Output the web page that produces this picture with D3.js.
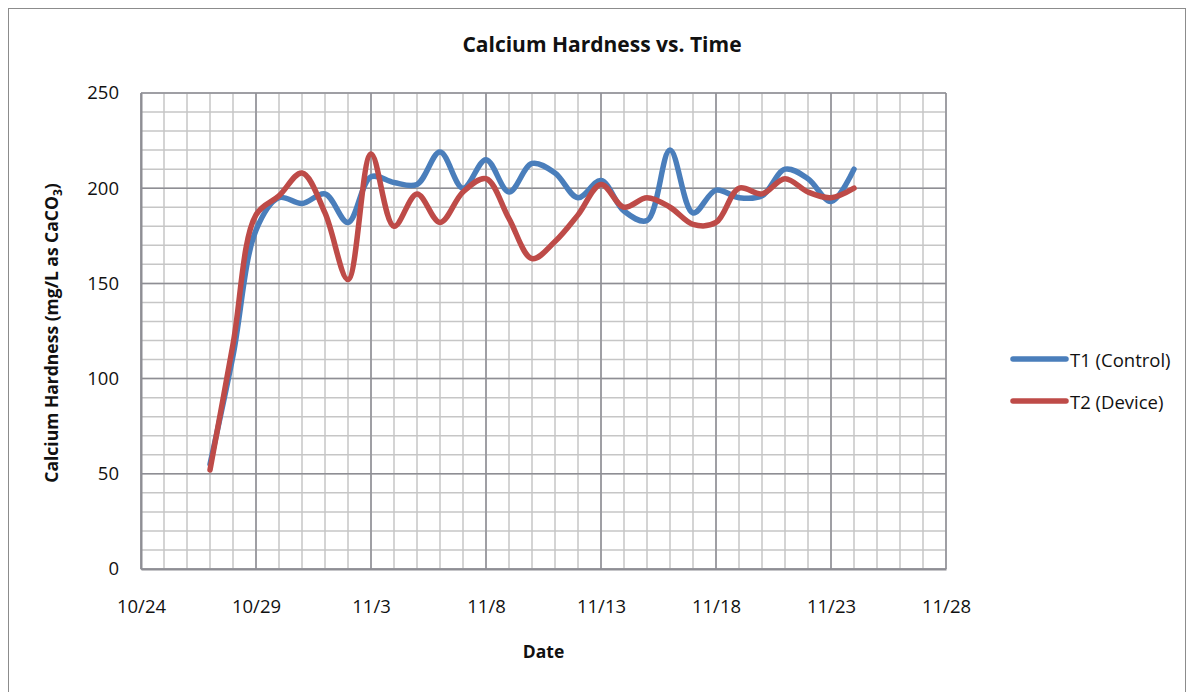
<!DOCTYPE html>
<html><head><meta charset="utf-8">
<script src="https://cdn.jsdelivr.net/npm/d3@7"></script>
<style>body{margin:0;background:#fff;}svg{display:block;font-family:"Open Sans",sans-serif;}</style>
</head><body>
<svg id="c" width="1191" height="692"></svg>
<script>
const dates = ["10/27","10/28","10/29","10/30","10/31","11/1","11/2","11/3","11/4","11/5","11/6","11/7","11/8","11/9","11/10","11/11","11/12","11/13","11/14","11/15","11/16","11/17","11/18","11/19","11/20","11/21","11/22","11/23","11/24"];
const t1Control = [55,112,178,195,192,197,182,206,203,202,219,200,215,198,213,208,195,204,188,183,220,187,199,195,196,210,205,193,210];
const t2Device  = [52,118,186,196,208,187,152,218,180,197,182,198,205,184,163,172,186,202,190,195,190,181,182,200,197,205,198,195,200];
const xTickLabels = ["10/24","10/29","11/3","11/8","11/13","11/18","11/23","11/28"];
const yTicks = [0,50,100,150,200,250];
const seriesNames = ["T1 (Control)","T2 (Device)"];
const colors = ["#4a7ebb","#be4b48"];

const year = 2013;
const parse = s => { const [m,d] = s.split("/").map(Number); return new Date(year, m-1, d); };
const svg = d3.select("#c");
const W = 1191, H = 692;
const m = {left:141, right:946, top:93, bottom:569};

svg.append("rect").attr("x",8.5).attr("y",8.5).attr("width",W-14).attr("height",H).attr("fill","#fff").attr("stroke","#8c8c8c").attr("stroke-width",1);

const x = d3.scaleTime().domain([parse("10/24"), parse("11/28")]).range([m.left, m.right]);
const y = d3.scaleLinear().domain([0,250]).range([m.bottom, m.top]);

const g = svg.append("g");
const days = d3.timeDay.range(parse("10/24"), d3.timeDay.offset(parse("11/28"),1));
g.selectAll("line.vmin").data(days).join("line")
  .attr("x1",d=>x(d)).attr("x2",d=>x(d)).attr("y1",m.top).attr("y2",m.bottom)
  .attr("stroke","#c6c6c6").attr("stroke-width",1.5);
g.selectAll("line.hmin").data(d3.range(0,251,10)).join("line")
  .attr("x1",m.left).attr("x2",m.right).attr("y1",d=>y(d)).attr("y2",d=>y(d))
  .attr("stroke","#c6c6c6").attr("stroke-width",1.5);
const majors = xTickLabels.map(parse);
g.selectAll("line.vmaj").data(majors).join("line")
  .attr("x1",d=>x(d)).attr("x2",d=>x(d)).attr("y1",m.top).attr("y2",m.bottom)
  .attr("stroke","#8e8e94").attr("stroke-width",1.5);
g.selectAll("line.hmaj").data(yTicks).join("line")
  .attr("x1",m.left).attr("x2",m.right).attr("y1",d=>y(d)).attr("y2",d=>y(d))
  .attr("stroke","#8e8e94").attr("stroke-width",1.5);

const xAxis = d3.axisBottom(x).tickValues(majors).tickFormat((d,i)=>xTickLabels[i]).tickSize(0).tickPadding(31);
const xa = svg.append("g").attr("transform",`translate(0,${m.bottom})`).call(xAxis);
xa.select(".domain").attr("stroke","#8e8e94").attr("stroke-width",2);
xa.selectAll("text").attr("font-size",18.5).attr("fill","#111").attr("font-family","Open Sans, sans-serif");
const yAxis = d3.axisLeft(y).tickValues(yTicks).tickSize(0).tickPadding(22);
const ya = svg.append("g").attr("transform",`translate(${m.left},0)`).call(yAxis);
ya.select(".domain").attr("stroke","#8e8e94").attr("stroke-width",2);
ya.selectAll("text").attr("font-size",18.5).attr("fill","#111").attr("font-family","Open Sans, sans-serif");

const line = d3.line().x(d=>x(d.date)).y(d=>y(d.v)).curve(d3.curveCatmullRom.alpha(0.5));
[t1Control, t2Device].forEach((vals,i)=>{
  const data = dates.map((s,k)=>({date:parse(s), v:vals[k]}));
  svg.append("path").datum(data).attr("d",line).attr("fill","none")
    .attr("stroke",colors[i]).attr("stroke-width",5.5).attr("stroke-linecap","round").attr("stroke-linejoin","round");
});

svg.append("text").attr("x",602).attr("y",52).attr("text-anchor","middle")
  .attr("font-size",21).attr("font-weight","bold").attr("fill","#111").text("Calcium Hardness vs. Time");
svg.append("text").attr("x",(m.left+m.right)/2).attr("y",658).attr("text-anchor","middle")
  .attr("font-size",17.5).attr("font-weight","bold").attr("fill","#111").text("Date");
const yl = svg.append("text").attr("transform","translate(58,333) rotate(-90)").attr("text-anchor","middle")
  .attr("font-size",17.5).attr("font-weight","bold").attr("fill","#111");
yl.append("tspan").text("Calcium Hardness (mg/L as CaCO");
yl.append("tspan").attr("font-size",12).attr("dy",4).text("3");
yl.append("tspan").attr("dy",-4).text(")");

seriesNames.forEach((n,i)=>{
  const yy = 359 + i*42;
  svg.append("line").attr("x1",1013).attr("x2",1066).attr("y1",yy).attr("y2",yy)
    .attr("stroke",colors[i]).attr("stroke-width",5.5).attr("stroke-linecap","round");
  svg.append("text").attr("x",1070).attr("y",yy+8).attr("font-size",18.5).attr("fill","#111").text(n);
});
</script>
</body></html>
